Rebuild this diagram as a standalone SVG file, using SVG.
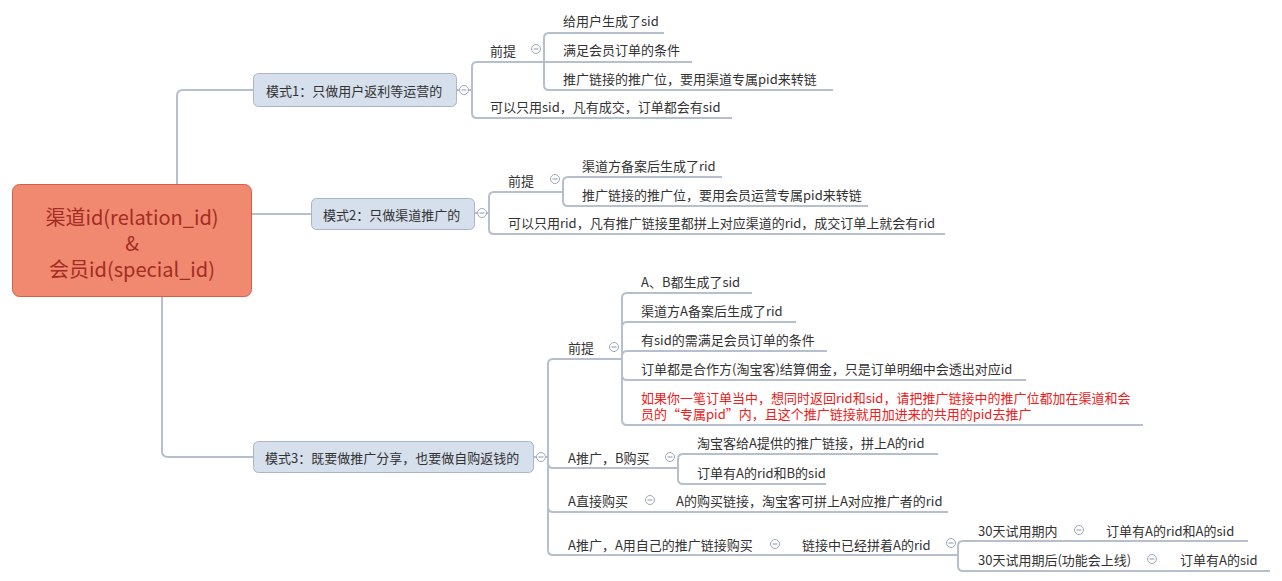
<svg xmlns="http://www.w3.org/2000/svg" xmlns:xlink="http://www.w3.org/1999/xlink" width="1282" height="581" viewBox="0 0 1282 581">
<style>
.t{font-family:"Noto Sans CJK SC","Microsoft YaHei",sans-serif;font-size:13px;fill:#333;dominant-baseline:central}
.red{fill:#EE2020}
.mt{font-family:"Noto Sans CJK SC","Microsoft YaHei",sans-serif;font-size:20px;fill:#A32C24;text-anchor:middle;dominant-baseline:central}
.ln{fill:none;stroke:#B6BFCD;stroke-width:2}
.box{fill:#D6DFEC;stroke:#A9B5C8;stroke-width:1}
</style>
<defs>
<g id="col"><circle cx="0" cy="0" r="4.5" fill="#fff" stroke="#9DA8BB" stroke-width="1"/><line x1="-2.5" y1="0" x2="2.5" y2="0" stroke="#8C97AA" stroke-width="1"/></g>
</defs>
<rect width="1282" height="581" fill="#fff"/>
<g id="connectors" class="ln">
<path d="M177,184 V96 Q177,90 183,90 H253"/>
<path d="M251,214 H311"/>
<path d="M162,297 V451 Q162,457 168,457 H253"/>
<path d="M457,90 H472 V67 Q472,62 477,62"/>
<path d="M472,90 V113 Q472,118 477,118"/>
<path d="M544,62 V38 Q544,33 549,33"/>
<path d="M544,62 H549"/>
<path d="M544,62 V85 Q544,90 549,90"/>
<path d="M475,213 H489 V197 Q489,192 494,192"/>
<path d="M489,213 V229 Q489,234 494,234"/>
<path d="M563,192 V182 Q563,177 568,177"/>
<path d="M563,192 V201 Q563,206 568,206"/>
<path d="M534,457 H548 V364 Q548,359 553,359"/>
<path d="M548,457 V463 Q548,468 553,468"/>
<path d="M548,457 V507 Q548,512 553,512"/>
<path d="M548,457 V550 Q548,555 553,555"/>
<path d="M622,359 V298 Q622,293 627,293"/>
<path d="M622,359 V327 Q622,322 627,322"/>
<path d="M622,359 V356 Q622,351 627,351"/>
<path d="M622,359 V375 Q622,380 627,380"/>
<path d="M622,359 V420 Q622,425 627,425"/>
<path d="M678,468 V459 Q678,454 683,454"/>
<path d="M678,468 V479 Q678,484 683,484"/>
<path d="M958,555 V546 Q958,541 963,541"/>
<path d="M958,555 V566 Q958,571 963,571"/>
</g>
<g id="main">
<rect x="12.5" y="184.5" width="239" height="112" rx="7" fill="#F0896F" stroke="#D65E48" stroke-width="1"/>
<text class="mt" x="132" y="216">渠道id(relation_id)</text>
<text class="mt" x="132" y="242">&amp;</text>
<text class="mt" x="132" y="268">会员id(special_id)</text>
</g>
<g id="mode1">
<rect class="box" x="253.5" y="73.5" width="203" height="33" rx="5"/>
<text class="t" x="266" y="90">模式1：只做用户返利等运营的</text>
<use xlink:href="#col" x="464" y="90"/>
</g>
<g id="m1-premise">
<path class="ln" d="M477,62 H544"/>
<text class="t" x="490" y="50">前提</text>
<use xlink:href="#col" x="536" y="49"/>
</g>
<g id="m1-p1"><path class="ln" d="M549,33 H664"/><text class="t" x="563" y="20">给用户生成了sid</text></g>
<g id="m1-p2"><path class="ln" d="M549,62 H692"/><text class="t" x="563" y="49">满足会员订单的条件</text></g>
<g id="m1-p3"><path class="ln" d="M549,90 H833"/><text class="t" x="563" y="78">推广链接的推广位，要用渠道专属pid来转链</text></g>
<g id="m1-only"><path class="ln" d="M477,118 H732"/><text class="t" x="490" y="106">可以只用sid，凡有成交，订单都会有sid</text></g>
<g id="mode2">
<rect class="box" x="311.5" y="198.5" width="163" height="31" rx="5"/>
<text class="t" x="323" y="214">模式2：只做渠道推广的</text>
<use xlink:href="#col" x="482" y="213"/>
</g>
<g id="m2-premise">
<path class="ln" d="M494,192 H563"/>
<text class="t" x="508" y="180">前提</text>
<use xlink:href="#col" x="555" y="179"/>
</g>
<g id="m2-p1"><path class="ln" d="M568,177 H722"/><text class="t" x="582" y="165">渠道方备案后生成了rid</text></g>
<g id="m2-p2"><path class="ln" d="M568,206 H868"/><text class="t" x="582" y="194">推广链接的推广位，要用会员运营专属pid来转链</text></g>
<g id="m2-only"><path class="ln" d="M494,234 H945"/><text class="t" x="508" y="222">可以只用rid，凡有推广链接里都拼上对应渠道的rid，成交订单上就会有rid</text></g>
<g id="mode3">
<rect class="box" x="253.5" y="441.5" width="280" height="31" rx="5"/>
<text class="t" x="265" y="457">模式3：既要做推广分享，也要做自购返钱的</text>
<use xlink:href="#col" x="541" y="457"/>
</g>
<g id="m3-premise">
<path class="ln" d="M553,359 H622"/>
<text class="t" x="568" y="347">前提</text>
<use xlink:href="#col" x="614" y="347"/>
</g>
<g id="m3-p1"><path class="ln" d="M627,293 H752"/><text class="t" x="641" y="281">A、B都生成了sid</text></g>
<g id="m3-p2"><path class="ln" d="M627,322 H796"/><text class="t" x="641" y="310">渠道方A备案后生成了rid</text></g>
<g id="m3-p3"><path class="ln" d="M627,351 H827"/><text class="t" x="641" y="339">有sid的需满足会员订单的条件</text></g>
<g id="m3-p4"><path class="ln" d="M627,380 H1026"/><text class="t" x="641" y="368">订单都是合作方(淘宝客)结算佣金，只是订单明细中会透出对应id</text></g>
<g id="m3-p5"><path class="ln" d="M627,425 H1143"/>
<text class="t red" x="641" y="397">如果你一笔订单当中，想同时返回rid和sid，请把推广链接中的推广位都加在渠道和会</text>
<text class="t red" x="641" y="413">员的“专属pid”内，且这个推广链接就用加进来的共用的pid去推广</text></g>
<g id="m3-ab">
<path class="ln" d="M553,468 H678"/>
<text class="t" x="568" y="457">A推广，B购买</text>
<use xlink:href="#col" x="670" y="457"/>
</g>
<g id="m3-ab1"><path class="ln" d="M683,454 H938"/><text class="t" x="697" y="442">淘宝客给A提供的推广链接，拼上A的rid</text></g>
<g id="m3-ab2"><path class="ln" d="M683,484 H826"/><text class="t" x="697" y="472">订单有A的rid和B的sid</text></g>
<g id="m3-direct">
<path class="ln" d="M553,512 H658"/>
<text class="t" x="568" y="500">A直接购买</text>
<use xlink:href="#col" x="650" y="500"/>
</g>
<g id="m3-direct1"><path class="ln" d="M658,512 H948"/><text class="t" x="676" y="500">A的购买链接，淘宝客可拼上A对应推广者的rid</text></g>
<g id="m3-self">
<path class="ln" d="M553,555 H783"/>
<text class="t" x="568" y="544">A推广，A用自己的推广链接购买</text>
<use xlink:href="#col" x="775" y="544"/>
</g>
<g id="m3-self1">
<path class="ln" d="M783,555 H958"/>
<text class="t" x="802" y="544">链接中已经拼着A的rid</text>
<use xlink:href="#col" x="951" y="543"/>
</g>
<g id="trial-in">
<path class="ln" d="M963,541 H1088"/>
<text class="t" x="978" y="530">30天试用期内</text>
<use xlink:href="#col" x="1079" y="530"/>
</g>
<g id="trial-in1"><path class="ln" d="M1088,541 H1248"/><text class="t" x="1106" y="530">订单有A的rid和A的sid</text></g>
<g id="trial-after">
<path class="ln" d="M963,571 H1160"/>
<text class="t" x="978" y="559">30天试用期后(功能会上线)</text>
<use xlink:href="#col" x="1152" y="559"/>
</g>
<g id="trial-after1"><path class="ln" d="M1160,571 H1270"/><text class="t" x="1180" y="559">订单有A的sid</text></g>
</svg>
